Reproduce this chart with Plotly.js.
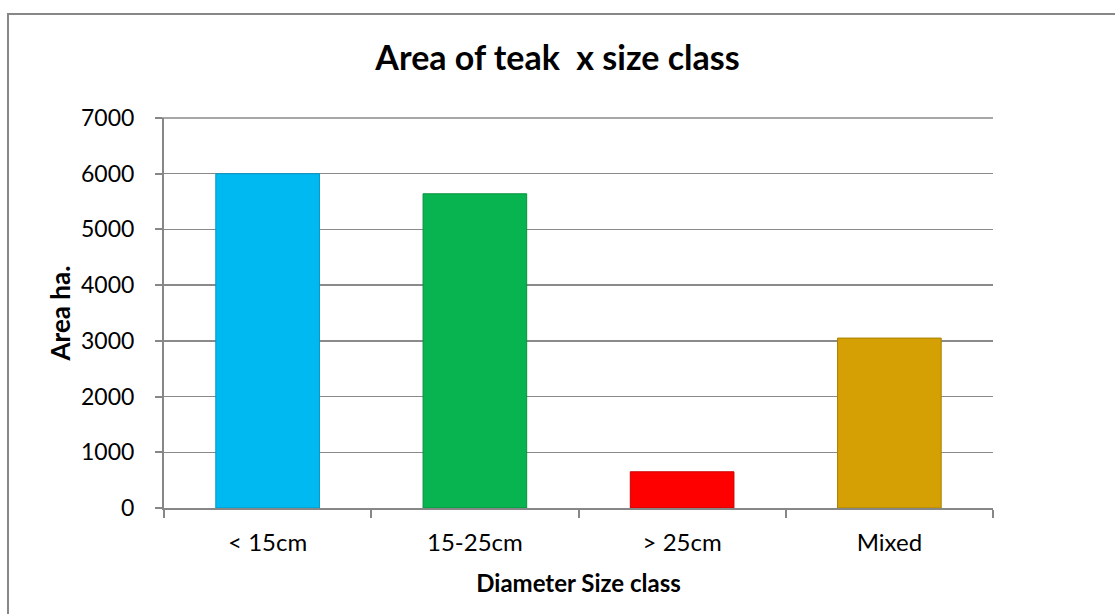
<!DOCTYPE html>
<html>
<head>
<meta charset="utf-8">
<script src="https://cdn.plot.ly/plotly-3.0.1.min.js"></script>
<style>
html,body{margin:0;padding:0;background:#fff;}
#chart{width:1115px;height:614px;}
</style>
</head>
<body>
<div id="chart"></div>
<script>
var categories = ["< 15cm", "15-25cm", "> 25cm", "Mixed"];
var areaValues = [6000, 5640, 650, 3050];
var barColors = ["#00B9F1", "#08B450", "#FF0000", "#D4A004"];
var barEdgeColors = ["#0096C4", "#06923F", "#C80000", "#A88000"];
var yTicks = [0, 1000, 2000, 3000, 4000, 5000, 6000, 7000];

var trace = {
  type: "bar",
  x: categories,
  y: areaValues,
  width: 0.5,
  marker: {color: barColors, line: {color: barEdgeColors, width: 1}},
  hoverinfo: "x+y"
};

var layout = {
  width: 1115,
  height: 614,
  paper_bgcolor: "#ffffff",
  plot_bgcolor: "#ffffff",
  margin: {l: 164, r: 122, t: 118, b: 106, autoexpand: false},
  showlegend: false,
  font: {family: "Lato, 'Open Sans', sans-serif", color: "#000000", size: 22},
  title: {
    text: "<b>Area of teak  x size class</b>",
    font: {family: "Lato, 'Open Sans', sans-serif", size: 34, color: "#000000"},
    x: 0.5, xref: "container", xanchor: "center",
    y: 1 - 58 / 614, yref: "container", yanchor: "middle"
  },
  xaxis: {
    type: "category",
    showline: true, linecolor: "#878787", linewidth: 2,
    ticks: "outside", tickson: "boundaries", ticklen: 8, tickwidth: 2, tickcolor: "#878787",
    ticklabelstandoff: 12,
    showgrid: false, zeroline: false,
    tickfont: {size: 24},
    title: {
      text: "<b>Diameter Size class</b>",
      font: {size: 24},
      standoff: 20
    }
  },
  yaxis: {
    range: [0, 7000],
    tickvals: yTicks,
    showline: true, linecolor: "#878787", linewidth: 2,
    ticks: "outside", ticklen: 7, tickwidth: 2, tickcolor: "#878787",
    ticklabelstandoff: 16,
    showgrid: true, gridcolor: "#8a8a8a", gridwidth: 1.5,
    zeroline: false,
    tickfont: {size: 23},
    title: {
      text: "<b>Area ha.</b>",
      font: {size: 26},
      standoff: 3
    }
  },
  shapes: [{
    type: "rect", xref: "paper", yref: "paper",
    x0: (8 - 164) / 829, x1: 1.4,
    y0: -0.6, y1: (508 - 14) / 390,
    line: {color: "#878787", width: 2},
    fillcolor: "rgba(0,0,0,0)",
    layer: "below"
  }, {
    type: "line", xref: "paper", yref: "paper",
    x0: -7 / 829, x1: 1, y0: 1, y1: 1,
    line: {color: "#8a8a8a", width: 1.5},
    layer: "below"
  }]
};

Plotly.newPlot("chart", [trace], layout, {displayModeBar: false, staticPlot: true});
</script>
</body>
</html>
